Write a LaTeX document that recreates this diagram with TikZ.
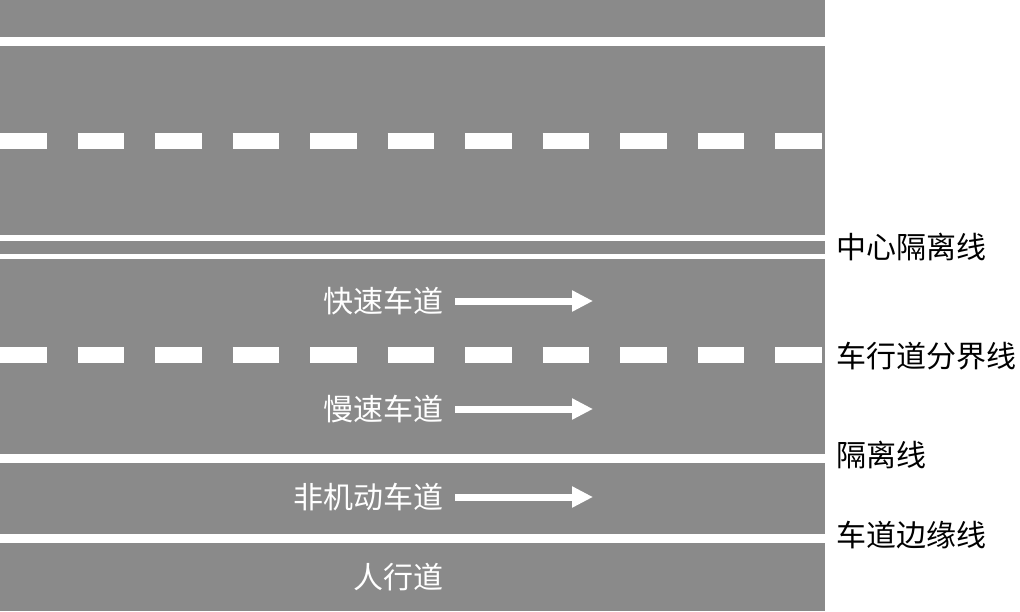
\documentclass[tikz,border=0pt]{standalone}
\usepackage{fontspec}
\usepackage{tikz}
\usetikzlibrary{arrows.meta,positioning}
\newfontfamily\cjk{Noto Sans CJK SC}
\definecolor{roadgray}{RGB}{138,138,138}

\begin{document}
\begin{tikzpicture}[x=1pt, y=-1pt, font=\cjk\fontsize{30}{32}\selectfont,
  edge/.style={draw=white, line width=9pt},
  twin/.style={draw=white, line width=5.5pt},
  dashes/.style={draw=white, line width=16.5pt, dash pattern=on 46.5pt off 31pt},
  lane/.style={text=white, inner sep=0pt, anchor=east},
  lbl/.style={text=black, inner sep=0pt, anchor=west},
  ar/.style={-{Triangle[length=21pt,width=20pt]}, draw=white, line width=7pt}]
\useasboundingbox (0,0) rectangle (1020,611);
\fill[roadgray] (0,0) rectangle (825,611);
% markings
\draw[edge] (0,41) -- (825,41);
\draw[dashes] (0,141) -- (825,141);
\draw[twin] (0,238) -- (825,238);
\draw[twin] (0,256.5) -- (825,256.5);
\draw[dashes] (0,355) -- (825,355);
\draw[edge] (0,458) -- (825,458);
\draw[edge] (0,538) -- (825,538);
% lanes
\node[lane] (fast) at (444,301) {快速车道};
\node[lane] (slow) at (444,409) {慢速车道};
\node[lane] (bike) at (444,497) {非机动车道};
\node[lane] (walk) at (444,577) {人行道};
\coordinate (arend) at (593,0);
\draw[ar] ([xshift=11pt]fast.east) -- (fast.east -| arend);
\draw[ar] ([xshift=11pt]slow.east) -- (slow.east -| arend);
\draw[ar] ([xshift=11pt]bike.east) -- (bike.east -| arend);
% labels
\node[lbl] (centre) at (836,247) {中心隔离线};
\node[lbl] (divide) at (836,356) {车行道分界线};
\node[lbl] (separ) at (836,455) {隔离线};
\node[lbl] (rim) at (836,535) {车道边缘线};
\end{tikzpicture}
\end{document}
